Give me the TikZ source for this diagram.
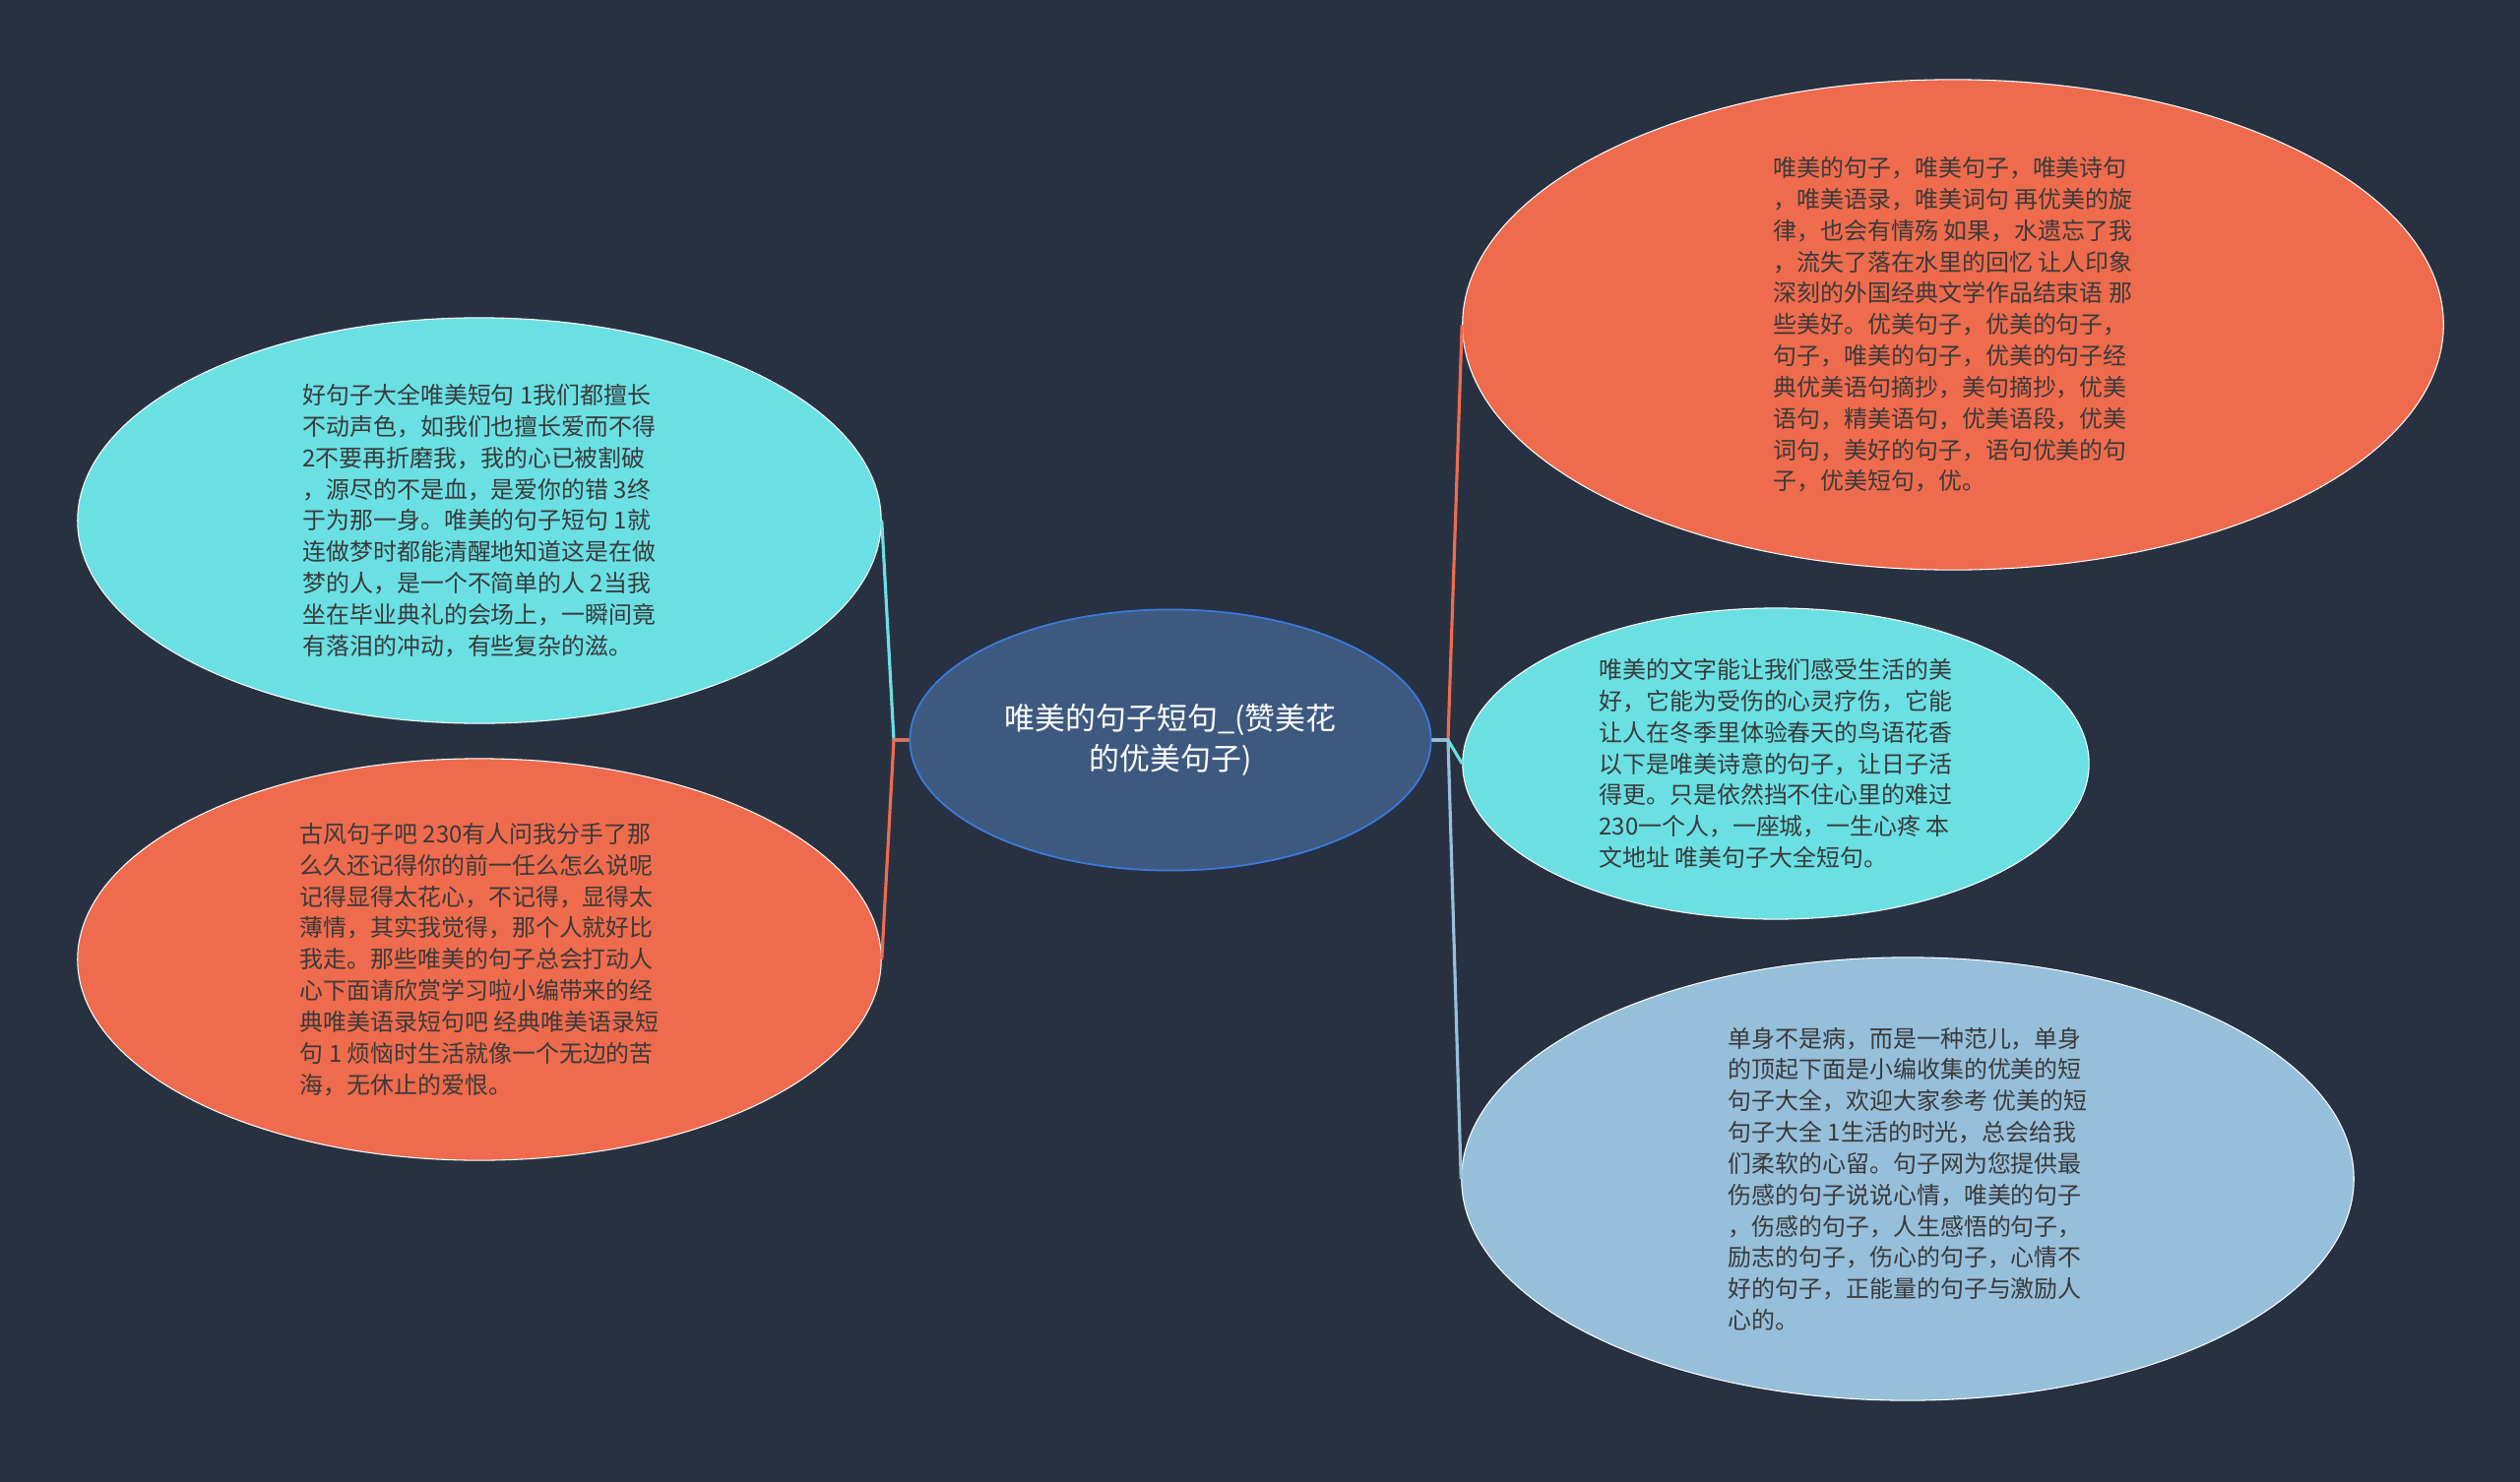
\documentclass[tikz,border=0pt]{standalone}
\usepackage{fontspec}
\setmainfont{Noto Sans CJK SC}
\usetikzlibrary{shapes.geometric}

\definecolor{bgdark}{HTML}{283141}
\definecolor{leaforange}{HTML}{EE6B4D}
\definecolor{leafcyan}{HTML}{6AE0E3}
\definecolor{leafblue}{HTML}{96BFDA}
\definecolor{hubfill}{HTML}{3D5980}
\definecolor{hubline}{HTML}{3A7BDC}
\definecolor{leaftext}{HTML}{3A3A3A}

\tikzset{
  leaf/.style={ellipse, draw=white, line width=0.3pt, inner sep=0pt,
    text=leaftext, align=left, font=\fontsize{6.8pt}{9.05pt}\selectfont},
  hub/.style={ellipse, draw=hubline, fill=hubfill, line width=0.5pt,
    inner sep=0pt, text=white, align=center,
    minimum width=5.29cm, minimum height=2.65cm,
    font=\fontsize{8.8pt}{11.7pt}\selectfont},
  branch/.style={line width=0.9pt}
}

\begin{document}
\begin{tikzpicture}[x=0.01cm, y=-0.01cm]
                % Background and page size
                \fill[bgdark] (0,0) rectangle (2560,1506);
                \useasboundingbox (0,0) rectangle (2560,1506);

                % Define node positions
                \node[hub] (hub) at (1189,752) {唯美的句子短句\_(赞美花\\的优美句子)};

                \node[leaf, fill=leafcyan, minimum width=8.16cm, minimum height=4.12cm] (tl) at (487,529) {%
好句子大全唯美短句 1我们都擅长\\
不动声色，如我们也擅长爱而不得\\
2不要再折磨我，我的心已被割破\\
，源尽的不是血，是爱你的错 3终\\
于为那一身。唯美的句子短句 1就\\
连做梦时都能清醒地知道这是在做\\
梦的人，是一个不简单的人 2当我\\
坐在毕业典礼的会场上，一瞬间竟\\
有落泪的冲动，有些复杂的滋。};

                \node[leaf, fill=leaforange, minimum width=8.16cm, minimum height=4.08cm] (bl) at (487,975) {%
古风句子吧 230有人问我分手了那\\
么久还记得你的前一任么怎么说呢\\
记得显得太花心，不记得，显得太\\
薄情，其实我觉得，那个人就好比\\
我走。那些唯美的句子总会打动人\\
心下面请欣赏学习啦小编带来的经\\
典唯美语录短句吧 经典唯美语录短\\
句 1 烦恼时生活就像一个无边的苦\\
海，无休止的爱恨。};

                \node[leaf, fill=leaforange, minimum width=9.96cm, minimum height=4.98cm] (tr) at (1984,330) {%
唯美的句子，唯美句子，唯美诗句\\
，唯美语录，唯美词句 再优美的旋\\
律，也会有情殇 如果，水遗忘了我\\
，流失了落在水里的回忆 让人印象\\
深刻的外国经典文学作品结束语 那\\
些美好。优美句子，优美的句子，\\
句子，唯美的句子，优美的句子经\\
典优美语句摘抄，美句摘抄，优美\\
语句，精美语句，优美语段，优美\\
词句，美好的句子，语句优美的句\\
子，优美短句，优。};

                \node[leaf, fill=leafcyan, minimum width=6.36cm, minimum height=3.16cm] (mr) at (1804,776) {%
唯美的文字能让我们感受生活的美\\
好，它能为受伤的心灵疗伤，它能\\
让人在冬季里体验春天的鸟语花香\\
以下是唯美诗意的句子，让日子活\\
得更。只是依然挡不住心里的难过\\
230一个人，一座城，一生心疼 本\\
文地址 唯美句子大全短句。};

                \node[leaf, fill=leafblue, minimum width=9.06cm, minimum height=4.5cm] (br) at (1938,1198) {%
单身不是病，而是一种范儿，单身\\
的顶起下面是小编收集的优美的短\\
句子大全，欢迎大家参考 优美的短\\
句子大全 1生活的时光，总会给我\\
们柔软的心留。句子网为您提供最\\
伤感的句子说说心情，唯美的句子\\
，伤感的句子，人生感悟的句子，\\
励志的句子，伤心的句子，心情不\\
好的句子，正能量的句子与激励人\\
心的。};

                % Branch points
                \coordinate (jl) at (908,752);
                \coordinate (jr) at (1471,752);

                % Draw connectors
                \draw[branch, leafcyan] (hub.west) -- (jl) -- (tl.east);
                \draw[branch, leaforange] (hub.west) -- (jl) -- (bl.east);
                \draw[branch, leaforange] (hub.east) -- (jr) -- (tr.west);
                \draw[branch, leafcyan] (hub.east) -- (jr) -- (mr.west);
                \draw[branch, leafblue] (hub.east) -- (jr) -- (br.west);
            \end{tikzpicture}
\end{document}
